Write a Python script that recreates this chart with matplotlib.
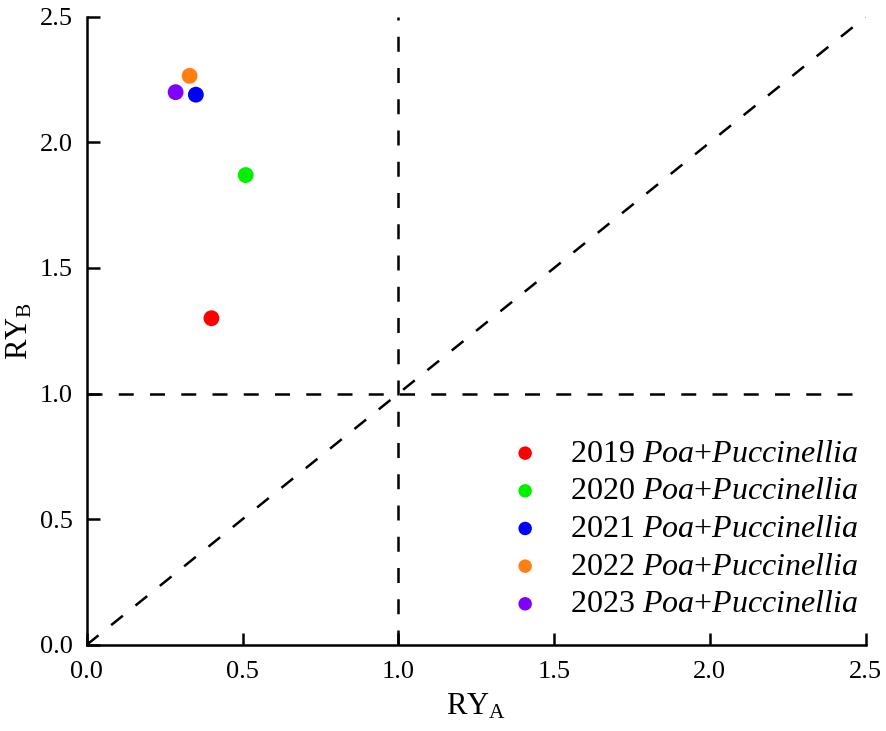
import numpy as np
import matplotlib
matplotlib.use("Agg")
import matplotlib.pyplot as plt

plt.rcParams['font.family'] = ['Liberation Serif', 'DejaVu Serif']
plt.rcParams['mathtext.fontset'] = 'custom'
plt.rcParams['mathtext.rm'] = 'Liberation Serif'
plt.rcParams['mathtext.it'] = 'Liberation Serif:italic'

# data
years = ['2019', '2020', '2021', '2022', '2023']
ry_a = [0.40, 0.51, 0.35, 0.33, 0.285]
ry_b = [1.30, 1.87, 2.19, 2.265, 2.20]
colors = ['#FF0000', '#00F000', '#0000FF', '#FF8010', '#8000FF']
ticks = [0.0, 0.5, 1.0, 1.5, 2.0, 2.5]

fig = plt.figure(figsize=(8.86, 7.31), dpi=100)
ax = fig.add_axes([0.098, 0.118, 0.879, 0.859])

dash = (0, (6, 6.5))
ax.plot([0, 2.5], [0, 2.5], color='black', lw=1.8, linestyle=dash, zorder=1)
ax.axhline(1.0, color='black', lw=1.8, linestyle=dash, zorder=1)
ax.axvline(1.0, color='black', lw=1.8, linestyle=dash, zorder=1)

for yr, xa, yb, c in zip(years, ry_a, ry_b, colors):
    ax.scatter(xa, yb, s=130, color=c, edgecolors='none', zorder=3,
               label=yr + r' $\mathit{Poa}$+$\mathit{Puccinellia}$')

ax.set_xlim(0, 2.5)
ax.set_ylim(0, 2.5)
ax.set_xticks(ticks)
ax.set_yticks(ticks)
ax.set_xticklabels([f'{t:.1f}' for t in ticks])
ax.set_yticklabels([f'{t:.1f}' for t in ticks])

for side in ['top', 'right']:
    ax.spines[side].set_visible(False)
for side in ['left', 'bottom']:
    ax.spines[side].set_linewidth(1.8)
ax.tick_params(direction='in', length=9, width=1.8, labelsize=19)
ax.tick_params(axis='x', pad=12)
ax.tick_params(axis='y', pad=10)

ax.set_xlabel(r'RY$_\mathrm{A}$', fontsize=22, labelpad=6)
ax.set_ylabel(r'RY$_\mathrm{B}$', fontsize=22, labelpad=4)

ax.legend(loc='lower right', frameon=False, fontsize=23, handletextpad=0.4,
          labelspacing=0.26, borderaxespad=0.4, scatterpoints=1,
          markerscale=0.85, bbox_to_anchor=(1.023, 0.0))

fig.savefig('out.png', dpi=100)
